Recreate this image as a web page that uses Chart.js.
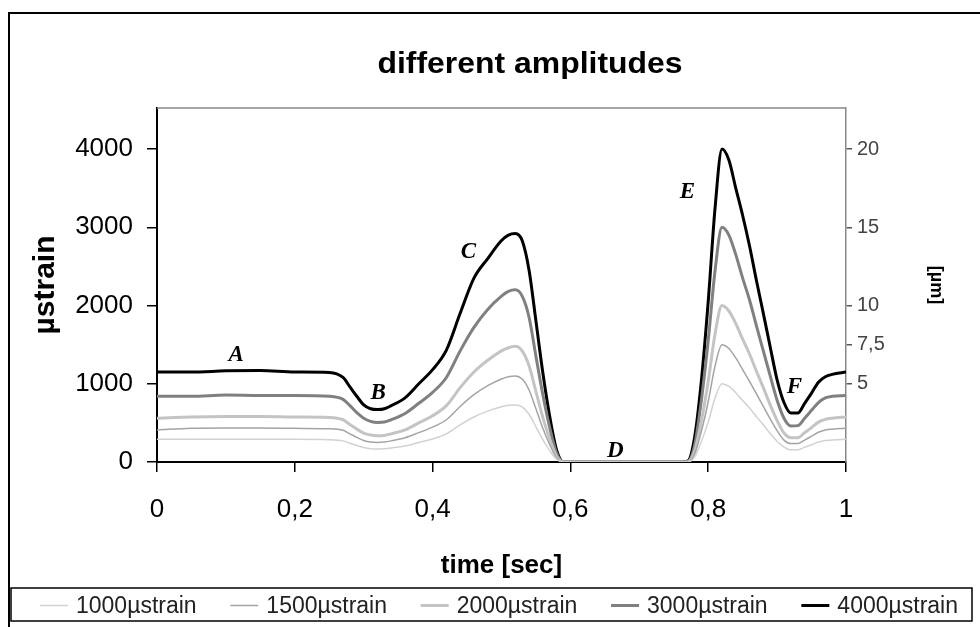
<!DOCTYPE html>
<html>
<head>
<meta charset="utf-8">
<script src="https://cdn.jsdelivr.net/npm/chart.js@4/dist/chart.umd.min.js"></script>
<style>
  html, body { margin: 0; padding: 0; background: #fff; }
  #wrap { width: 980px; height: 627px; position: relative; }
</style>
</head>
<body>
<div id="wrap"><canvas id="chart" width="980" height="627"></canvas></div>
<script>
// time axis [sec]
const times = [0, 0.05, 0.1, 0.15, 0.2, 0.25, 0.27, 0.28, 0.29, 0.30, 0.31, 0.32, 0.33, 0.34, 0.36, 0.38,
  0.40, 0.42, 0.44, 0.46, 0.48, 0.50, 0.51, 0.52, 0.53, 0.54, 0.55, 0.56, 0.57, 0.58, 0.59,
  0.62, 0.66, 0.70, 0.74, 0.76, 0.77, 0.78, 0.79, 0.80, 0.81, 0.82, 0.83, 0.84, 0.85, 0.86,
  0.87, 0.88, 0.89, 0.90, 0.91, 0.92, 0.93, 0.94, 0.95, 0.96, 0.97, 0.98, 1.0];

// µstrain per amplitude
const s1000 = [290, 290, 290, 290, 290, 285, 270, 240, 210, 185, 170, 165, 170, 180, 205, 250,
  295, 360, 475, 575, 650, 705, 725, 730, 705, 610, 450, 285, 145, 35, 0,
  0, 0, 0, 0, 0, 0, 60, 260, 510, 820, 1000, 965, 885, 785, 690,
  580, 475, 365, 265, 190, 155, 155, 190, 220, 255, 275, 280, 290];
const s1500 = [410, 430, 435, 435, 430, 425, 405, 360, 315, 275, 255, 250, 255, 270, 310, 375,
  445, 540, 710, 860, 975, 1060, 1090, 1100, 1060, 920, 680, 430, 220, 55, 0,
  0, 0, 0, 0, 0, 0, 95, 390, 770, 1230, 1500, 1450, 1330, 1180, 1030,
  870, 710, 550, 400, 280, 235, 235, 280, 330, 380, 410, 420, 430];
const s2000 = [560, 575, 580, 580, 575, 570, 540, 480, 420, 370, 345, 335, 340, 360, 410, 500,
  590, 720, 950, 1150, 1300, 1420, 1460, 1480, 1420, 1230, 900, 570, 290, 70, 0,
  0, 0, 0, 0, 0, 0, 130, 520, 1030, 1640, 2000, 1930, 1770, 1570, 1380,
  1160, 950, 730, 530, 370, 310, 310, 375, 440, 510, 545, 560, 575];
const s3000 = [840, 840, 855, 850, 850, 840, 800, 720, 630, 560, 520, 505, 510, 540, 620, 750,
  890, 1080, 1420, 1720, 1950, 2120, 2180, 2200, 2120, 1850, 1350, 860, 440, 110, 0,
  0, 0, 0, 0, 0, 5, 200, 780, 1550, 2450, 3000, 2900, 2650, 2350, 2070,
  1740, 1420, 1100, 790, 560, 460, 465, 560, 660, 760, 820, 840, 850];
const s4000 = [1150, 1150, 1165, 1170, 1150, 1145, 1080, 960, 840, 730, 680, 670, 680, 720, 820, 1000,
  1180, 1430, 1900, 2350, 2600, 2830, 2900, 2920, 2830, 2450, 1800, 1140, 580, 150, 0,
  0, 0, 0, 0, 0, 10, 300, 1030, 2050, 3250, 4000, 3860, 3500, 3150, 2760,
  2320, 1900, 1470, 1050, 760, 625, 625, 750, 880, 1020, 1090, 1120, 1150];

const seriesNames = ['1000µstrain', '1500µstrain', '2000µstrain', '3000µstrain', '4000µstrain'];
const seriesValues = [s1000, s1500, s2000, s3000, s4000];
const seriesColors = ['#d2d2d2', '#a4a4a4', '#c4c4c4', '#808080', '#000000'];
const seriesWidths = [1.5, 1.5, 3, 3, 3];

const leftTicks = [0, 1000, 2000, 3000, 4000];
const rightTicks = [5, 7.5, 10, 15, 20];
const xTicks = [0, 0.2, 0.4, 0.6, 0.8, 1];

// phase markers A-F
const markers = [
  { label: 'A', t: 0.115, v: 1370 },
  { label: 'B', t: 0.321, v: 880 },
  { label: 'C', t: 0.452, v: 2680 },
  { label: 'D', t: 0.665, v: 140 },
  { label: 'E', t: 0.77, v: 3450 },
  { label: 'F', t: 0.925, v: 960 }
];

const yMax = 4524;
const umPerStrain = 1 / 200;

const FONT = '"Liberation Sans", Arial, sans-serif';
const comma = v => String(v).replace('.', ',');

const datasets = seriesNames.map((name, i) => ({
  label: name,
  data: times.map((t, j) => ({ x: t, y: seriesValues[i][j] })),
  borderColor: seriesColors[i],
  backgroundColor: seriesColors[i],
  borderWidth: seriesWidths[i],
  pointRadius: 0,
  cubicInterpolationMode: 'monotone',
  fill: false
}));

const decor = {
  id: 'decor',
  beforeDraw(chart) {
    const ctx = chart.ctx;
    ctx.save();
    ctx.fillStyle = '#fff';
    ctx.fillRect(0, 0, chart.width, chart.height);
    ctx.strokeStyle = '#000';
    ctx.lineWidth = 2;
    ctx.strokeRect(9, 13, 1000, 700);
    ctx.restore();
  },
  afterDraw(chart) {
    const ctx = chart.ctx;
    const a = chart.chartArea;
    const xs = chart.scales.x, ys = chart.scales.y;
    ctx.save();

    // chart title
    ctx.fillStyle = '#000';
    ctx.font = 'bold 30px ' + FONT;
    ctx.textBaseline = 'alphabetic';
    ctx.textAlign = 'left';
    const title = 'different amplitudes';
    const tw = ctx.measureText(title).width;
    const sx = 305 / tw;
    ctx.save();
    ctx.translate(530 - 305 / 2, 73);
    ctx.scale(sx, 1);
    ctx.fillText(title, 0, 0);
    ctx.restore();

    // top frame line of the plot area
    ctx.strokeStyle = '#888';
    ctx.lineWidth = 1.5;
    ctx.beginPath();
    ctx.moveTo(a.left, a.top);
    ctx.lineTo(a.right, a.top);
    ctx.stroke();

    // letters
    ctx.fillStyle = '#000';
    ctx.font = 'bold italic 23px "Liberation Serif", "Times New Roman", serif';
    ctx.textAlign = 'center';
    ctx.textBaseline = 'middle';
    markers.forEach(m => {
      ctx.fillText(m.label, xs.getPixelForValue(m.t), ys.getPixelForValue(m.v));
    });

    // legend
    const box = { left: 11, top: 588, right: 972, bottom: 621 };
    ctx.strokeStyle = '#000';
    ctx.lineWidth = 1.5;
    ctx.strokeRect(box.left, box.top, box.right - box.left, box.bottom - box.top);
    ctx.font = '23px ' + FONT;
    ctx.textAlign = 'left';
    const sample = 28, gap = 8;
    const widths = chart.data.datasets.map(d => sample + gap + ctx.measureText(d.label).width);
    const start = 40, end = 958;
    const spacing = (end - start - widths.reduce((s, w) => s + w, 0)) / (widths.length - 1);
    const cy = (box.top + box.bottom) / 2 + 1;
    let x = start;
    chart.data.datasets.forEach((d, i) => {
      ctx.strokeStyle = d.borderColor;
      ctx.lineWidth = d.borderWidth;
      ctx.beginPath();
      ctx.moveTo(x, cy);
      ctx.lineTo(x + sample, cy);
      ctx.stroke();
      ctx.fillStyle = '#222';
      ctx.fillText(d.label, x + sample + gap, cy + 1);
      x += widths[i] + spacing;
    });
    ctx.restore();
  }
};

new Chart(document.getElementById('chart'), {
  type: 'line',
  data: { datasets },
  options: {
    responsive: false,
    animation: false,
    layout: { padding: { left: 0, right: 0, top: 108, bottom: 45 } },
    plugins: {
      title: { display: false },
      legend: { display: false },
      tooltip: { enabled: false }
    },
    scales: {
      x: {
        type: 'linear',
        min: 0,
        max: 1,
        afterBuildTicks: s => { s.ticks = xTicks.map(v => ({ value: v })); },
        afterFit: s => { s.height = 120; },
        ticks: {
          color: '#000',
          font: { family: FONT, size: 26 },
          padding: 22,
          maxRotation: 0,
          callback: v => comma(v)
        },
        grid: { drawOnChartArea: false, tickLength: 10, color: '#000', lineWidth: 1.5 },
        border: { color: '#000', width: 2 },
        title: {
          display: true,
          text: 'time [sec]',
          color: '#000',
          font: { family: FONT, size: 26, weight: 'bold' },
          padding: { top: 0, bottom: 1 }
        }
      },
      y: {
        position: 'left',
        min: 0,
        max: yMax,
        afterBuildTicks: s => { s.ticks = leftTicks.map(v => ({ value: v })); },
        afterFit: s => { s.width = 157; },
        ticks: {
          color: '#000',
          font: { family: FONT, size: 26 },
          padding: 14,
          callback: v => String(v)
        },
        grid: { drawOnChartArea: false, tickLength: 10, color: '#000', lineWidth: 1.5 },
        border: { color: '#000', width: 2 },
        title: {
          display: true,
          text: 'µstrain',
          color: '#000',
          font: { family: FONT, size: 30, weight: 'bold' },
          padding: { top: 28, bottom: 0 }
        }
      },
      y2: {
        position: 'right',
        min: 0,
        max: yMax * umPerStrain,
        afterBuildTicks: s => { s.ticks = rightTicks.map(v => ({ value: v })); },
        afterFit: s => { s.width = 134; },
        ticks: {
          color: '#444',
          font: { family: FONT, size: 20 },
          padding: 5,
          callback: v => comma(v)
        },
        grid: { drawOnChartArea: false, tickLength: 6, color: '#555', lineWidth: 1.5 },
        border: { color: '#888', width: 1.5 },
        title: {
          display: true,
          text: '[µm]',
          color: '#000',
          font: { family: FONT, size: 18, weight: 'bold' },
          padding: { top: 33, bottom: 0 }
        }
      }
    }
  },
  plugins: [decor]
});
</script>
</body>
</html>
